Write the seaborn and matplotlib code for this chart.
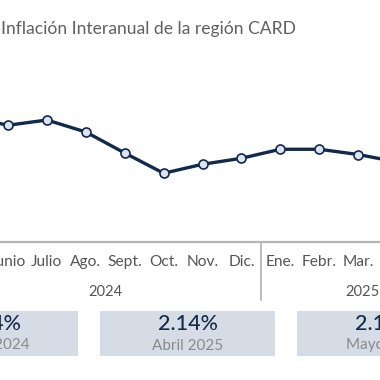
import matplotlib
matplotlib.use("Agg")
import matplotlib.pyplot as plt
import matplotlib.transforms as mtransforms
from matplotlib.lines import Line2D
from matplotlib.patches import Rectangle
import seaborn as sns
import pandas as pd

# ---- data ----
months = ["Mayo", "Junio", "Julio", "Ago.", "Sept.", "Oct.", "Nov.", "Dic.",
          "Ene.", "Febr.", "Mar.", "Abril", "Mayo"]
years = ["2024"] * 8 + ["2025"] * 5
inflation = [2.74, 2.63, 2.70, 2.54, 2.26, 1.99, 2.11, 2.19,
             2.31, 2.31, 2.24, 2.14, 2.15]
card_values = ["2.74%", "2.14%", "2.15%"]
card_labels = ["Mayo 2024", "Abril 2025", "Mayo 2025"]
title = "Inflación Interanual de la región CARD"

df = pd.DataFrame({"idx": range(len(months)), "month": months,
                   "year": years, "value": inflation})

sns.set_theme(style="white")
plt.rcParams["font.family"] = ["Lato", "DejaVu Sans"]

W = H = 380
fig = plt.figure(figsize=(3.8, 3.8), dpi=100)
fig.patch.set_facecolor("white")

def fy(px):
    return 1 - px / H

def fx(px):
    return px / W

ax = fig.add_axes([0, fy(235), 1, (235 - 60) / H])
navy = "#10294d"
sns.lineplot(data=df, x="idx", y="value", ax=ax, color=navy, linewidth=2.4,
             marker="o", markersize=6.5, markerfacecolor="#dde4ee",
             markeredgecolor=navy, markeredgewidth=1.2)
ax.set_xlim(0.794, 10.56)
ax.set_ylim(1.167, 3.50)
ax.axis("off")

# title
fig.text(fx(1), fy(29), title, ha="left", va="center", fontsize=12.6,
         color="#606060")

# month labels and axis decorations
trans = mtransforms.blended_transform_factory(ax.transData, fig.transFigure)
for i, m in enumerate(months):
    ax.text(i, fy(262), m, transform=trans, ha="center", va="center",
            fontsize=11.2, color="#555555", clip_on=False)

fig.add_artist(Line2D([0, 1], [fy(241.5), fy(241.5)], color="#b5b5b5",
                      linewidth=1.6, transform=fig.transFigure))
sep = 7.5
fig.add_artist(Line2D([sep, sep], [fy(241.5), fy(300)], color="#b5b5b5",
                      linewidth=1.3, transform=trans))

# year labels
year_pos = {"2024": (0 + 7) / 2, "2025": 10.1}
for y, xpos in year_pos.items():
    ax.text(xpos, fy(292), y, transform=trans, ha="center", va="center",
            fontsize=10.6, color="#555555", clip_on=False)

# cards
card_centers = [-9.5, 187.5, 384.5]
card_w = 175
for c, v, lab in zip(card_centers, card_values, card_labels):
    fig.add_artist(Rectangle((fx(c - card_w / 2), fy(356)), card_w / W, 45 / H,
                             transform=fig.transFigure, facecolor="#d6dce5",
                             edgecolor="none"))
    fig.text(fx(c), fy(324), v, ha="center", va="center", fontsize=15.5,
             color="#142a4a", fontweight="medium")
    fig.text(fx(c), fy(345.5), lab, ha="center", va="center", fontsize=11,
             color="#8a8a8a")

fig.savefig("out.png", dpi=100, facecolor="white")
